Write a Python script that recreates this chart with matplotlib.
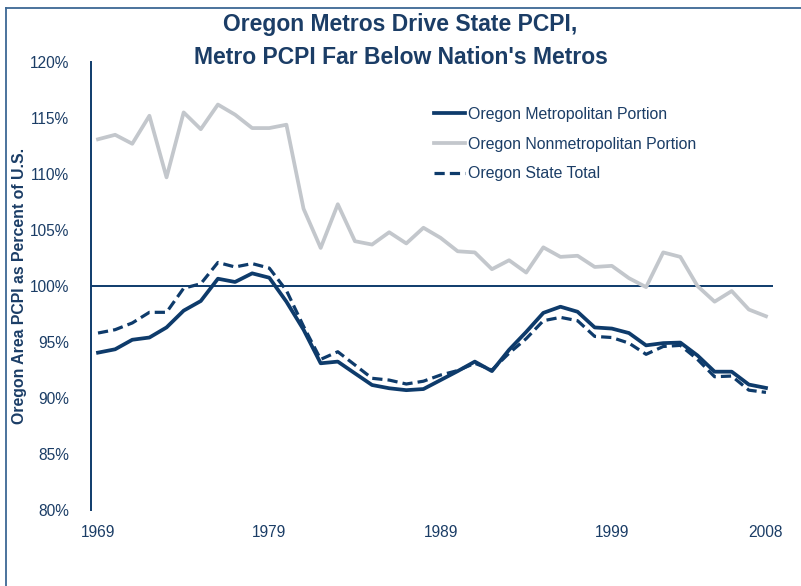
import matplotlib.pyplot as plt
from matplotlib.lines import Line2D
from matplotlib.ticker import FuncFormatter

plt.rcParams['font.family'] = ['Liberation Sans', 'DejaVu Sans']

years = list(range(1969, 2009))

metro = [94.05, 94.35, 95.2, 95.4, 96.3, 97.8, 98.66, 100.65, 100.36, 101.13,
         100.74, 98.6, 96.1, 93.1, 93.25, 92.2, 91.16, 90.87, 90.7, 90.8,
         91.6, 92.4, 93.25, 92.4, 94.3, 95.9, 97.6, 98.15, 97.7, 96.3,
         96.2, 95.8, 94.7, 94.9, 94.95, 93.8, 92.35, 92.35, 91.2, 90.9]

nonmetro = [113.1, 113.5, 112.7, 115.2, 109.7, 115.5, 114.0, 116.2, 115.3, 114.1,
            114.1, 114.4, 106.9, 103.4, 107.3, 104.0, 103.7, 104.8, 103.8, 105.2,
            104.3, 103.1, 103.0, 101.5, 102.3, 101.2, 103.45, 102.6, 102.7, 101.7,
            101.8, 100.7, 99.9, 103.0, 102.6, 100.0, 98.6, 99.55, 97.9, 97.3]

state = [95.8, 96.1, 96.7, 97.65, 97.65, 99.8, 100.2, 102.1, 101.7, 102.0,
         101.6, 99.6, 96.4, 93.45, 94.13, 92.95, 91.76, 91.6, 91.25, 91.5,
         92.05, 92.45, 93.1, 92.5, 94.0, 95.3, 96.9, 97.2, 96.9, 95.5,
         95.4, 94.9, 93.9, 94.6, 94.7, 93.45, 91.9, 91.96, 90.7, 90.5]

x_ticks = [1969, 1979, 1989, 1999, 2008]

navy = '#0e3b6b'
gray = '#c3c7cc'
text_c = '#1b3d66'

fig = plt.figure(figsize=(8.01, 5.86), dpi=100)
ax = fig.add_axes([91 / 801, 1 - 510 / 586, (773 - 91) / 801, (510 - 62) / 586])

l1, = ax.plot(years, metro, color=navy, lw=2.7, label='Oregon Metropolitan Portion')
l2, = ax.plot(years, nonmetro, color=gray, lw=2.7, label='Oregon Nonmetropolitan Portion')
l3, = ax.plot(years, state, color=navy, lw=2.3, ls=(0, (3.2, 1.6)), label='Oregon State Total')
ax.axhline(100, color=navy, lw=1.4, zorder=1)

ax.set_xlim(1968.59, 2008.41)
ax.set_ylim(80, 120)
ax.set_yticks(range(80, 121, 5))
ax.yaxis.set_major_formatter(FuncFormatter(lambda v, p: f'{v:.0f}%'))
ax.set_xticks(x_ticks)
ax.tick_params(length=0, colors=text_c, labelsize=11.2)
ax.tick_params(axis='y', pad=16)
ax.tick_params(axis='x', pad=11)
for s in ['top', 'right', 'bottom']:
    ax.spines[s].set_visible(False)
ax.spines['left'].set_color(navy)
ax.spines['left'].set_linewidth(1.4)

ax.set_ylabel('Oregon Area PCPI as Percent of U.S.', fontsize=11.4,
              fontweight='bold', color=text_c)
ax.yaxis.set_label_coords((27 - 91) / 682, 0.5)

fig.text(0.5, 1 - 24 / 586, "Oregon Metros Drive State PCPI,",
         ha='center', va='center', fontsize=16.5, fontweight='bold', color=text_c)
fig.text(0.5, 1 - 57 / 586, "Metro PCPI Far Below Nation's Metros",
         ha='center', va='center', fontsize=16.5, fontweight='bold', color=text_c)

leg = fig.legend(handles=[l1, l2, l3], loc='upper left', bbox_to_anchor=(434 / 801, 1 - 107 / 586),
                 frameon=False, fontsize=11.4, handlelength=1.95, handletextpad=0.2,
                 borderpad=0, borderaxespad=0, labelspacing=0.93)
for t in leg.get_texts():
    t.set_color(text_c)

# outer frame (top and left edges)
fig.add_artist(Line2D([6 / 801, 1], [1 - 8 / 586, 1 - 8 / 586], color='#3d6894', lw=1.3,
                      transform=fig.transFigure))
fig.add_artist(Line2D([6 / 801, 6 / 801], [0, 1 - 8 / 586], color='#3d6894', lw=1.3,
                      transform=fig.transFigure))

fig.savefig('out.png', dpi=100)
